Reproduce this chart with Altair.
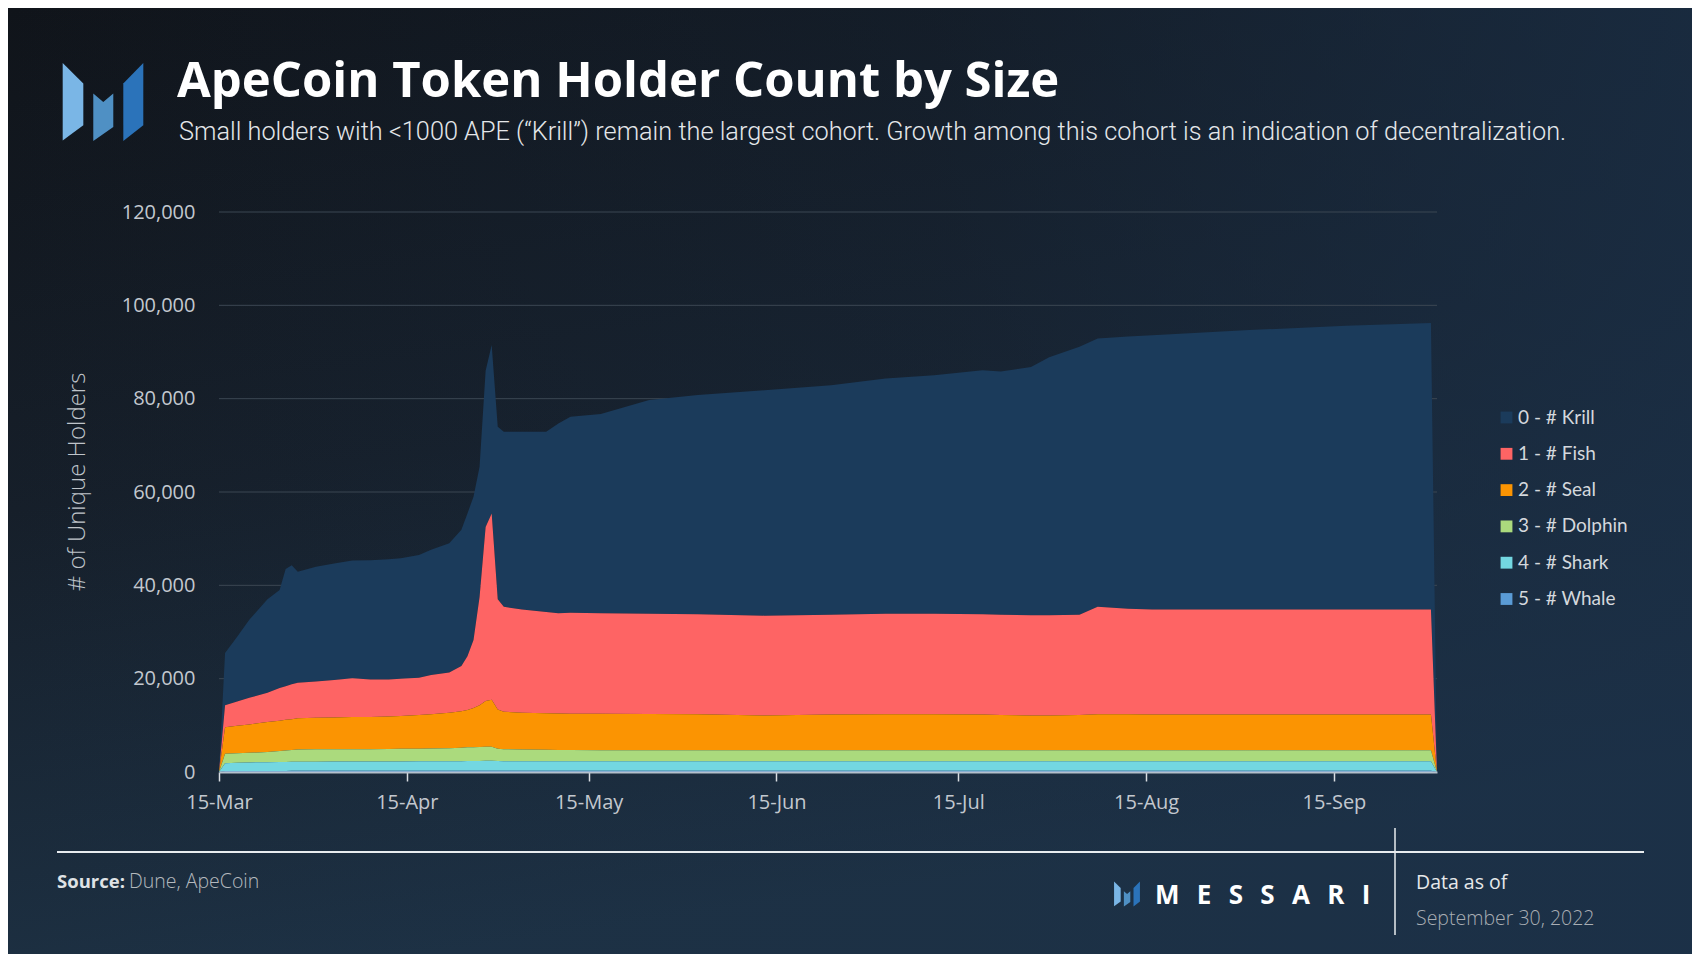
import altair as alt
import pandas as pd

# ---------------- data ----------------
dates = ["2022-03-15", "2022-03-16", "2022-03-18", "2022-03-20", "2022-03-23", "2022-03-25",
         "2022-03-26", "2022-03-27", "2022-03-28", "2022-03-31", "2022-04-03", "2022-04-06",
         "2022-04-09", "2022-04-12", "2022-04-14", "2022-04-17", "2022-04-19", "2022-04-22",
         "2022-04-24", "2022-04-25", "2022-04-26", "2022-04-27", "2022-04-28", "2022-04-29",
         "2022-04-30", "2022-05-01", "2022-05-04", "2022-05-08", "2022-05-10", "2022-05-12",
         "2022-05-17", "2022-05-25", "2022-06-02", "2022-06-13", "2022-06-24", "2022-07-03",
         "2022-07-11", "2022-07-19", "2022-07-22", "2022-07-27", "2022-07-30", "2022-08-04",
         "2022-08-07", "2022-08-12", "2022-08-16", "2022-09-01", "2022-09-17", "2022-10-01",
         "2022-10-02"]

krill = [0, 11200, 13900, 16700, 20000, 21000, 25100, 25500, 23800, 24600, 25000, 25200,
         25600, 25800, 25800, 26300, 26800, 27700, 29200, 30600, 30700, 27900, 33500, 36100,
         37000, 37500, 38100, 38600, 40700, 42000, 42700, 45800, 47000, 48300, 49200, 50400,
         51100, 52300, 52100, 53200, 55300, 57400, 57500, 58300, 58800, 59900, 60800, 61400, 0]
fish = [0, 4700, 5200, 5700, 6300, 7000, 7200, 7500, 7600, 7800, 8000, 8300,
        8000, 7900, 8000, 8000, 8400, 8600, 9700, 11500, 14600, 23200, 37300, 39900,
        23600, 22500, 22100, 21700, 21450, 21600, 21500, 21450, 21400, 21400, 21400, 21500,
        21500, 21500, 21500, 21500, 21500, 21500, 23000, 22600, 22500, 22500, 22500, 22500, 0]
seal = [0, 5700, 5900, 6100, 6400, 6500, 6600, 6600, 6700, 6750, 6800, 6900,
        6900, 6950, 7000, 7200, 7350, 7600, 7800, 8000, 8400, 8950, 9800, 10100,
        8400, 8000, 7900, 7850, 7850, 7800, 7850, 7800, 7750, 7450, 7650, 7750,
        7750, 7650, 7550, 7450, 7450, 7550, 7750, 7750, 7650, 7650, 7650, 7650, 0]
dolphin = [0, 2000, 2000, 2050, 2200, 2350, 2450, 2500, 2600, 2650, 2650, 2650,
           2650, 2700, 2750, 2700, 2750, 2800, 2900, 2950, 2950, 3000, 3000, 3000,
           2650, 2600, 2500, 2450, 2400, 2400, 2350, 2350, 2350, 2350, 2350, 2350,
           2350, 2350, 2350, 2350, 2350, 2350, 2350, 2350, 2350, 2350, 2350, 2350, 0]
shark = [0, 1700, 1780, 1820, 1860, 1910, 1910, 1950, 1950, 1950, 2000, 2000,
         2000, 2000, 2000, 2050, 2050, 2050, 2050, 2100, 2100, 2100, 2140, 2140,
         2100, 2050, 2050, 2050, 2050, 2050, 2050, 2050, 2050, 2050, 2050, 2050,
         2050, 2050, 2050, 2050, 2050, 2050, 2050, 2050, 2050, 2050, 2050, 2050, 0]
whale = [0, 200, 220, 230, 240, 240, 240, 250, 250, 250, 250, 250,
         250, 250, 250, 250, 250, 250, 250, 250, 250, 250, 260, 260,
         250, 250, 250, 250, 250, 250, 250, 250, 250, 250, 250, 250,
         250, 250, 250, 250, 250, 250, 250, 250, 250, 250, 250, 250, 0]

cohorts = ["0 - # Krill", "1 - # Fish", "2 - # Seal", "3 - # Dolphin", "4 - # Shark", "5 - # Whale"]
cohort_colors = ["#1b3b5b", "#fe6464", "#fb9402", "#abda7d", "#73d7e1", "#5a9bd5"]

y_ticks = [0, 20000, 40000, 60000, 80000, 100000, 120000]
x_ticks = ["2022-03-15", "2022-04-15", "2022-05-15", "2022-06-15", "2022-07-15",
           "2022-08-15", "2022-09-15"]
x_domain = ["2022-03-15", "2022-10-02"]


def ms(s):
    return int(pd.Timestamp(s, tz="UTC").timestamp() * 1000)


series = [krill, fish, seal, dolphin, shark, whale]
rows = []
for i, d in enumerate(dates):
    for k, name in enumerate(cohorts):
        rows.append({"date": d, "cohort": name, "holders": series[k][i], "stack_rank": 5 - k})
df = pd.DataFrame(rows)
grid_df = pd.DataFrame({"value": y_ticks[1:]})
one = pd.DataFrame({"k": [0]})

# ---------------- layout ----------------
W, H = 1218, 560
PAD = {"left": 211, "top": 204, "right": 255, "bottom": 182}
TOTAL_W = PAD["left"] + W + PAD["right"]
TOTAL_H = PAD["top"] + H + PAD["bottom"]

y_scale = alt.Scale(domain=[0, 120000], nice=False)
y_axis = alt.Axis(values=y_ticks, format=",.0f", title=None, grid=False, domain=False,
                  ticks=False, tickSize=0, labelFont="Open Sans", labelFontSize=20,
                  labelColor="#c3c8cf", labelPadding=24, labelFlush=False, zindex=1)
x_enc = alt.X("date:T",
              scale=alt.Scale(type="utc", domain=[ms(d) for d in x_domain]),
              axis=alt.Axis(values=[ms(d) for d in x_ticks], format="%d-%b", title=None,
                            grid=False, domainColor="#b4c0cc", domainWidth=2,
                            tickColor="#d8dde2", tickSize=9, tickWidth=1.5,
                            labelFont="Open Sans", labelFontSize=20, labelColor="#c3c8cf",
                            labelPadding=11, labelFlush=False, zindex=1))

# background gradients
bg = alt.Chart(one).mark_rect(
    color={"gradient": "linear", "x1": 0, "y1": 0, "x2": 0.25, "y2": 1,
           "stops": [{"offset": 0, "color": "#10141a"},
                     {"offset": 0.5, "color": "#161f2a"},
                     {"offset": 1, "color": "#1d3144"}]}
).encode(x=alt.value(-PAD["left"]), x2=alt.value(TOTAL_W - PAD["left"]),
         y=alt.value(-PAD["top"]), y2=alt.value(TOTAL_H - PAD["top"]))
bg2 = alt.Chart(one).mark_rect(
    color={"gradient": "linear", "x1": 0, "y1": 0, "x2": 1, "y2": 0,
           "stops": [{"offset": 0, "color": "rgba(27,48,72,0)"},
                     {"offset": 0.55, "color": "rgba(27,48,72,0.25)"},
                     {"offset": 1, "color": "rgba(27,48,72,0.75)"}]}
).encode(x=alt.value(-PAD["left"]), x2=alt.value(TOTAL_W - PAD["left"]),
         y=alt.value(-PAD["top"]), y2=alt.value(TOTAL_H - PAD["top"]))

grid = alt.Chart(grid_df).mark_rule(color="#3b4652", strokeWidth=1).encode(
    y=alt.Y("value:Q", scale=y_scale, axis=y_axis))

area = alt.Chart(df).mark_area(interpolate="linear").encode(
    x=x_enc,
    y=alt.Y("holders:Q", stack="zero", scale=y_scale, axis=y_axis),
    color=alt.Color("cohort:N", scale=alt.Scale(domain=cohorts, range=cohort_colors),
                    legend=alt.Legend(orient="none", legendX=1278, legendY=196, title=None,
                                      symbolType="square", symbolSize=140,
                                      symbolStrokeWidth=0, symbolOpacity=1,
                                      labelFont="Lato", labelFontSize=19,
                                      labelColor="#d4d8dd", rowPadding=16.3, labelOffset=2,
                                      padding=0)),
    order=alt.Order("stack_rank:Q", sort="ascending"),
)

# logo pieces (decoration)
logo_left = "M-0.995,-0.963L-0.486,-0.454L-0.486,0.575L-0.995,0.951Z"
logo_mid = "M-0.24,-0.207L0.007,0L0.254,-0.207L0.254,0.617L-0.24,0.963Z"
logo_right = "M0.995,-0.963L0.995,0.575L0.501,0.963L0.501,-0.454Z"
logo_cols = ["#7ab6e6", "#4f90c4", "#2b73ba"]


def logo(cx, cy, side):
    parts = []
    for p, c in zip([logo_left, logo_mid, logo_right], logo_cols):
        parts.append(alt.Chart(one).mark_point(shape=p, filled=True, color=c, opacity=1,
                                               size=side * side, strokeWidth=0)
                     .encode(x=alt.value(cx), y=alt.value(cy)))
    return parts


def txt(s, x, y, size, color, font="Open Sans", weight="normal", align="left", angle=0,
        baseline="alphabetic"):
    return alt.Chart(one).mark_text(text=s, font=font, fontSize=size, fontWeight=weight,
                                    color=color, align=align, baseline=baseline,
                                    angle=angle).encode(x=alt.value(x), y=alt.value(y))


title = txt("ApeCoin Token Holder Count by Size", -42, -115, 49, "#ffffff",
            font="Open Sans", weight="bold")
subtitle = txt("Small holders with <1000 APE (\u201cKrill\u201d) remain the largest cohort. "
               "Growth among this cohort is an indication of decentralization.",
               -40, -72, 25.3, "#e4e7ea", font="Roboto", weight=300)
ytitle = txt("# of Unique Holders", -141, 270, 24, "#bfc4ca", weight=300, align="center",
             angle=270, baseline="middle")

hline = alt.Chart(one).mark_rule(color="#e8ecef", strokeWidth=2).encode(
    x=alt.value(-162), x2=alt.value(1425), y=alt.value(640))
vline = alt.Chart(one).mark_rule(color="#e8ecef", strokeWidth=1.5).encode(
    x=alt.value(1176), y=alt.value(616), y2=alt.value(723))

src1 = txt("Source:", -162, 676, 18.5, "#dfe2e5", weight="bold")
src2 = txt("Dune, ApeCoin", -90, 676, 19.5, "#b4b9be", weight=300)
brand = txt("M\u2002\u2009E\u2002\u2009S\u2002\u2009S\u2002\u2009A\u2002\u2009R\u2002\u2009I",
            936, 692, 26, "#ffffff", weight="bold")
asof1 = txt("Data as of", 1197, 677, 19.5, "#e6e8ea")
asof2 = txt("September 30, 2022", 1197, 713, 19.5, "#a9aeb4", weight=300)

layers = [bg, bg2, grid, area] + logo(-116, -110, 81) + logo(908, 682, 26) + [
    title, subtitle, ytitle, hline, vline, src1, src2, brand, asof1, asof2]

chart = alt.layer(*layers).properties(
    width=W, height=H, padding=PAD, autosize=alt.AutoSizeParams(type="none"),
    background="#151d27",
).configure_view(stroke=None)

chart.save("out.html", embed_options={"renderer": "svg", "actions": False})
